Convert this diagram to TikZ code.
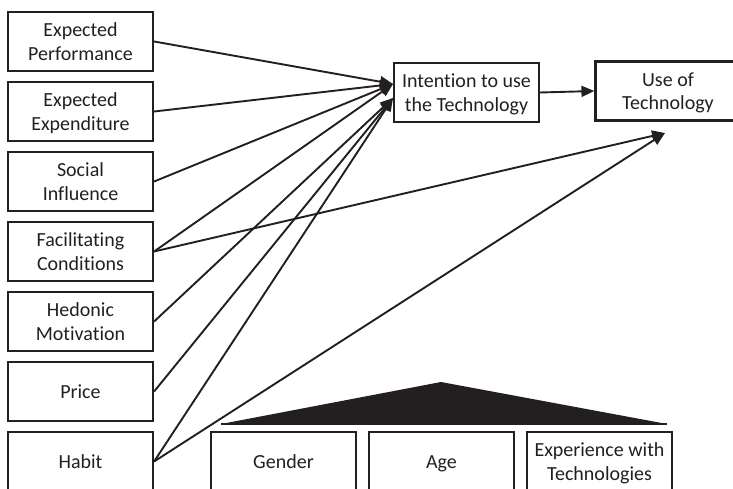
\documentclass[tikz,border=0pt]{standalone}
\usepackage{fontspec}
\setmainfont[Ligatures=NoCommon]{Carlito}
\usetikzlibrary{arrows.meta}
\definecolor{ink}{HTML}{231F20}
\newcommand\sst{\rule[-3pt]{0pt}{20pt}}
\begin{document}
\begin{tikzpicture}[x=1pt,y=-1pt,
  box/.style={draw=ink,line width=2.2pt,minimum width=145pt,minimum height=59pt,inner sep=0pt,align=center,text=ink,font=\fontsize{20}{23.5}\selectfont},
  arr/.style={draw=ink,line width=1.9pt,-{Triangle[length=13pt,width=11pt]}}]
\useasboundingbox (0,0) rectangle (733,489);
\clip (0,0) rectangle (733,489);
\node[box] (b1) at (80.5,41.5) {Expected\sst\\Performance\sst};
\node[box] (b2) at (80.5,111.5) {Expected\sst\\Expenditure\sst};
\node[box] (b3) at (80.5,181.5) {Social\sst\\Influence\sst};
\node[box] (b4) at (80.5,251.5) {Facilitating\sst\\Conditions\sst};
\node[box] (b5) at (80.5,321.5) {Hedonic\sst\\Motivation\sst};
\node[box] (b6) at (80.5,391.5) {Price\sst};
\node[box] (b7) at (80.5,461.5) {Habit\sst};
\node[box] (int) at (466.5,92.5) {Intention to use\sst\\the Technology\sst};
\node[box] (use) at (668,91) {Use of\sst\\Technology\sst};
\node[box] (gen) at (283.5,461.5) {Gender\sst};
\node[box] (age) at (441.5,461.5) {Age\sst};
\node[box] (exp) at (599.5,461.5) {Experience with\sst\\Technologies\sst};
\coordinate (tipA) at (393,84);
\coordinate (tipB) at (393,98);
\coordinate (tipU) at (665,133);
\coordinate (apex) at (441,382);
\coordinate (bl) at (221,424);
\coordinate (br) at (667,424);
\draw[arr] (b1.east) -- (tipA);
\draw[arr] (b2.east) -- (tipA);
\draw[arr] (b3.east) -- (tipA);
\draw[arr] (b4.east) -- (tipA);
\draw[arr] (b5.east) -- (tipB);
\draw[arr] (b6.east) -- (tipB);
\draw[arr] (b7.east) -- (tipB);
\draw[arr] (b4.east) -- (tipU);
\draw[arr] (b7.east) -- (tipU);
\draw[arr] (int.east) -- (use.west);
\fill[ink] (bl) -- (apex) -- (br) -- cycle;
\draw[ink,line width=2.2pt] (bl) -- (br);
\end{tikzpicture}
\end{document}
